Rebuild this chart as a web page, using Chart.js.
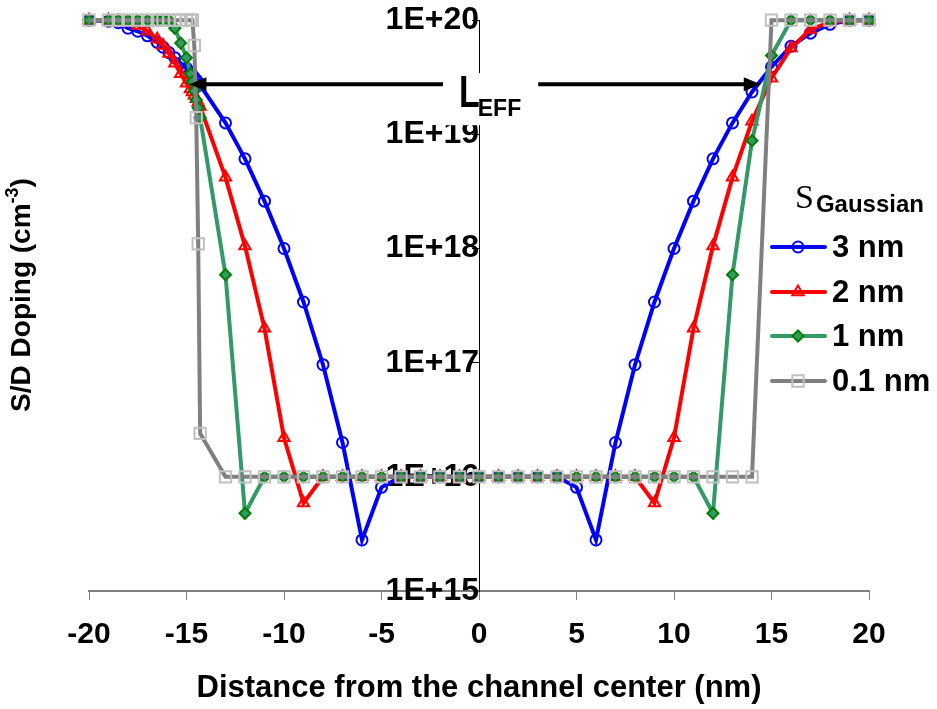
<!DOCTYPE html>
<html>
<head>
<meta charset="utf-8">
<script src="https://cdn.jsdelivr.net/npm/chart.js@4/dist/chart.umd.min.js"></script>
<style>
html,body{margin:0;padding:0;background:#ffffff;}
#wrap{width:937px;height:709px;position:relative;}
canvas{display:block;}
</style>
</head>
<body>
<div id="wrap"><canvas id="c" width="937" height="709"></canvas></div>
<script>
// ---------- data ----------
const xs = [-20, -19, -18.5, -18, -17.5, -17, -16.5, -16.2, -15.9, -15.6, -15.3, -15, -14.8, -14.7, -14.6, -14.5, -14.4, -14.3,
  -13, -12, -11, -10, -9, -8, -7, -6, -5, -4, -3, -2, -1, 0, 1, 2, 3, 4, 5, 6, 7, 8, 9, 10, 11, 12, 13, 14, 15, 16, 17, 18, 19, 20];

const doping3nm = [1e20, 9.8e19, 9.5e19, 8.5e19, 8e19, 7.3e19, 6.4e19, 5.8e19, 5.2e19, 4.7e19, 4.2e19, 3.8e19, 3.5e19, 3.3e19, 3.15e19, 3e19, 2.85e19, 2.7e19,
  1.26e19, 6.1e18, 2.6e18, 1e18, 3.4e17, 9.6e16, 2e16, 2.8e15, 8.1e15, 1e16, 1e16, 1e16, 1e16, 1e16, 1e16, 1e16, 1e16, 1e16,
  8.1e15, 2.8e15, 2e16, 9.6e16, 3.4e17, 1e18, 2.6e18, 6.1e18, 1.26e19, 2.35e19, 3.9e19, 5.9e19, 7.7e19, 9.2e19, 1e20, 1e20];

const doping2nm = [1e20, 1e20, 9.8e19, 9.5e19, 9e19, 8e19, 6.8e19, 6e19, 5.1e19, 4.2e19, 3.4e19, 2.8e19, 2.5e19, 2.35e19, 2.2e19, 2.05e19, 1.9e19, 1.75e19,
  4.2e18, 1.05e18, 2e17, 2.2e16, 5.9e15, 1e16, 1e16, 1e16, 1e16, 1e16, 1e16, 1e16, 1e16, 1e16, 1e16, 1e16, 1e16, 1e16, 1e16, 1e16, 1e16, 1e16,
  5.9e15, 2.2e16, 2e17, 1.05e18, 4.2e18, 1.3e19, 3.1e19, 5.7e19, 8.3e19, 9.6e19, 1e20, 1e20];

const doping1nm = [1e20, 1e20, 1e20, 1e20, 1e20, 1e20, 1e20, 1e20, 1e20, 8.5e19, 6.3e19, 4.7e19, 3.4e19, 2.9e19, 2.4e19, 2e19, 1.7e19, 1.4e19,
  5.9e17, 4.8e15, 1e16, 1e16, 1e16, 1e16, 1e16, 1e16, 1e16, 1e16, 1e16, 1e16, 1e16, 1e16, 1e16, 1e16, 1e16, 1e16, 1e16, 1e16, 1e16, 1e16, 1e16, 1e16, 1e16,
  4.8e15, 5.9e17, 8.8e18, 4.9e19, 1e20, 1e20, 1e20, 1e20, 1e20];

const doping01nm = [1e20, 1e20, 1e20, 1e20, 1e20, 1e20, 1e20, 1e20, 1e20, 1e20, 1e20, 1e20, 1e20, 1e20, 6e19, 1.4e19, 1.1e18, 2.4e16,
  1e16, 1e16, 1e16, 1e16, 1e16, 1e16, 1e16, 1e16, 1e16, 1e16, 1e16, 1e16, 1e16, 1e16, 1e16, 1e16, 1e16, 1e16, 1e16, 1e16, 1e16, 1e16, 1e16, 1e16, 1e16, 1e16, 1e16, 1e16,
  1e20, 1e20, 1e20, 1e20, 1e20, 1e20];

const seriesLabels = ['3 nm', '2 nm', '1 nm', '0.1 nm'];
const xTickValues = [-20, -15, -10, -5, 0, 5, 10, 15, 20];
const xTickLabels = ['-20', '-15', '-10', '-5', '0', '5', '10', '15', '20'];
const yTickValues = [1e15, 1e16, 1e17, 1e18, 1e19, 1e20];
const yTickLabels = ['1E+15', '1E+16', '1E+17', '1E+18', '1E+19', '1E+20'];
const xTitle = 'Distance from the channel center (nm)';
const yTitleMain = 'S/D Doping (cm';
const yTitleSup = '-3';
const yTitleEnd = ')';
const legendTitleS = 'S';
const legendTitleSub = 'Gaussian';
const leffMain = 'L';
const leffSub = 'EFF';
const leffFrom = -14.85;   // arrow tip (nm)
const leffTo = 14.45;      // arrow tip (nm)
const leffLevel = 2.75e19; // arrow height (cm^-3)

// ---------- styles ----------
const FONT = "'Liberation Sans', Arial, Helvetica, sans-serif";
const SERIF = "'Liberation Serif', 'Times New Roman', serif";
const TRANSPARENT = 'rgba(0,0,0,0)';
const styles = [
  {line: '#0000FF', pBorder: '#0000FF', pFill: TRANSPARENT, pStyle: 'circle', r: 5.5, order: 4},
  {line: '#FF0000', pBorder: '#FF0000', pFill: TRANSPARENT, pStyle: 'triangle', r: 6.5, order: 3},
  {line: '#339966', pBorder: '#008000', pFill: '#339966', pStyle: 'rectRot', r: 5.5, order: 2},
  {line: '#808080', pBorder: '#C0C0C0', pFill: TRANSPARENT, pStyle: 'rect', r: 8, order: 1}
];
const seriesValues = [doping3nm, doping2nm, doping1nm, doping01nm];

const datasets = seriesValues.map((vals, i) => ({
  label: seriesLabels[i],
  data: xs.map((x, j) => ({x: x, y: vals[j]})),
  borderColor: styles[i].line,
  borderWidth: 4,
  tension: 0,
  fill: false,
  pointStyle: styles[i].pStyle,
  pointRadius: styles[i].r,
  pointBorderWidth: 2,
  pointBorderColor: styles[i].pBorder,
  pointBackgroundColor: styles[i].pFill,
  order: styles[i].order,
  clip: false
}));

// ---------- overlay plugin: y title, L_EFF arrow, legend ----------
const overlay = {
  id: 'overlay',
  afterDraw(chart) {
    const ctx = chart.ctx;
    const xS = chart.scales.x, yS = chart.scales.y;
    ctx.save();

    // Y axis title (rotated)
    ctx.fillStyle = '#000';
    ctx.textBaseline = 'middle';
    ctx.translate(22, 295);
    ctx.rotate(-Math.PI / 2);
    ctx.font = 'bold 28px ' + FONT;
    const w1 = ctx.measureText(yTitleMain).width;
    const w3 = ctx.measureText(yTitleEnd).width;
    ctx.font = 'bold 18px ' + FONT;
    const w2 = ctx.measureText(yTitleSup).width;
    let tx = -(w1 + w2 + w3) / 2;
    ctx.textAlign = 'left';
    ctx.font = 'bold 28px ' + FONT;
    ctx.fillText(yTitleMain, tx, 0);
    ctx.font = 'bold 18px ' + FONT;
    ctx.fillText(yTitleSup, tx + w1, -9);
    ctx.font = 'bold 28px ' + FONT;
    ctx.fillText(yTitleEnd, tx + w1 + w2, 0);
    ctx.setTransform(1, 0, 0, 1, 0, 0);

    // L_EFF arrow and label
    const ay = yS.getPixelForValue(leffLevel);
    const xl = xS.getPixelForValue(leffFrom);
    const xr = xS.getPixelForValue(leffTo);
    const cx = xS.getPixelForValue(0);
    ctx.font = 'bold 34px ' + FONT;
    const wL = ctx.measureText(leffMain).width;
    ctx.font = 'bold 23px ' + FONT;
    const wE = ctx.measureText(leffSub).width;
    const textLeft = cx - 20;
    const textRight = textLeft + wL - 2 + wE;
    const gapL = textLeft - 16, gapR = textRight + 17;
    ctx.fillStyle = '#ffffff';
    ctx.fillRect(gapL, ay - 11, gapR - gapL, 52);
    ctx.strokeStyle = '#000';
    ctx.lineWidth = 4;
    ctx.beginPath();
    ctx.moveTo(xl + 10, ay); ctx.lineTo(gapL, ay);
    ctx.moveTo(gapR, ay); ctx.lineTo(xr - 10, ay);
    ctx.stroke();
    ctx.fillStyle = '#000';
    ctx.beginPath();
    ctx.moveTo(xl, ay); ctx.lineTo(xl + 17, ay - 7); ctx.lineTo(xl + 17, ay + 7); ctx.closePath();
    ctx.moveTo(xr, ay); ctx.lineTo(xr - 17, ay - 7); ctx.lineTo(xr - 17, ay + 7); ctx.closePath();
    ctx.fill();
    ctx.textAlign = 'left';
    ctx.textBaseline = 'alphabetic';
    ctx.save();
    ctx.translate(textLeft, ay + 23);
    ctx.scale(1, 1.3);
    ctx.font = 'bold 34px ' + FONT;
    ctx.fillText(leffMain, 0, 0);
    ctx.restore();
    ctx.font = 'bold 23px ' + FONT;
    ctx.fillText(leffSub, textLeft + wL - 2, ay + 32);

    // Legend
    ctx.textBaseline = 'alphabetic';
    ctx.font = '34px ' + SERIF;
    ctx.fillText(legendTitleS, 795, 208);
    const wS = ctx.measureText(legendTitleS).width;
    ctx.font = 'bold 24px ' + FONT;
    ctx.fillText(legendTitleSub, 795 + wS + 2, 212);
    const rows = [247, 292, 336, 381];
    rows.forEach((ry, i) => {
      const st = styles[i];
      ctx.strokeStyle = st.line;
      ctx.lineWidth = 4;
      ctx.lineCap = 'round';
      ctx.beginPath();
      ctx.moveTo(772, ry); ctx.lineTo(825, ry);
      ctx.stroke();
      ctx.lineCap = 'butt';
      ctx.strokeStyle = st.pBorder;
      ctx.fillStyle = st.pFill;
      ctx.lineWidth = 2;
      Chart.helpers.drawPoint(ctx, {pointStyle: st.pStyle, radius: st.r, borderWidth: 2, rotation: 0}, 798, ry);
      ctx.fillStyle = '#000';
      ctx.font = 'bold 31px ' + FONT;
      ctx.textBaseline = 'middle';
      ctx.fillText(seriesLabels[i], 832, ry + 1);
    });
    ctx.restore();
  }
};

new Chart(document.getElementById('c'), {
  type: 'line',
  data: {datasets: datasets},
  plugins: [overlay],
  options: {
    responsive: false,
    devicePixelRatio: 1,
    animation: false,
    events: [],
    layout: {padding: {left: 89, right: 68, top: 19, bottom: 0}},
    plugins: {legend: {display: false}, tooltip: {enabled: false}},
    scales: {
      x: {
        type: 'linear',
        position: 'bottom',
        min: -20, max: 20,
        afterBuildTicks: s => { s.ticks = xTickValues.map(v => ({value: v})); },
        afterFit: s => { s.height = 118; },
        ticks: {
          callback: (v, i) => xTickLabels[i],
          font: {family: FONT, size: 30, weight: 'bold'},
          color: '#000',
          padding: 17,
          maxRotation: 0,
          autoSkip: false
        },
        grid: {drawOnChartArea: false, drawTicks: true, tickLength: 9, color: '#808080', lineWidth: 1},
        border: {display: true, color: '#808080', width: 2},
        title: {display: true, text: xTitle, font: {family: FONT, size: 31, weight: 'bold'}, color: '#000', padding: {top: 0, bottom: 2}}
      },
      y: {
        type: 'logarithmic',
        position: {x: 0},
        min: 1e15, max: 1e20,
        z: 1,
        afterBuildTicks: s => { s.ticks = yTickValues.map(v => ({value: v, major: true})); },
        ticks: {
          callback: (v, i) => yTickLabels[i],
          font: {family: FONT, size: 32, weight: 'bold'},
          color: '#000',
          padding: 1,
          autoSkip: false
        },
        grid: {drawOnChartArea: false, drawTicks: true, tickLength: 7, color: '#000', lineWidth: 1},
        border: {display: true, color: '#000', width: 1}
      }
    }
  }
});
</script>
</body>
</html>
